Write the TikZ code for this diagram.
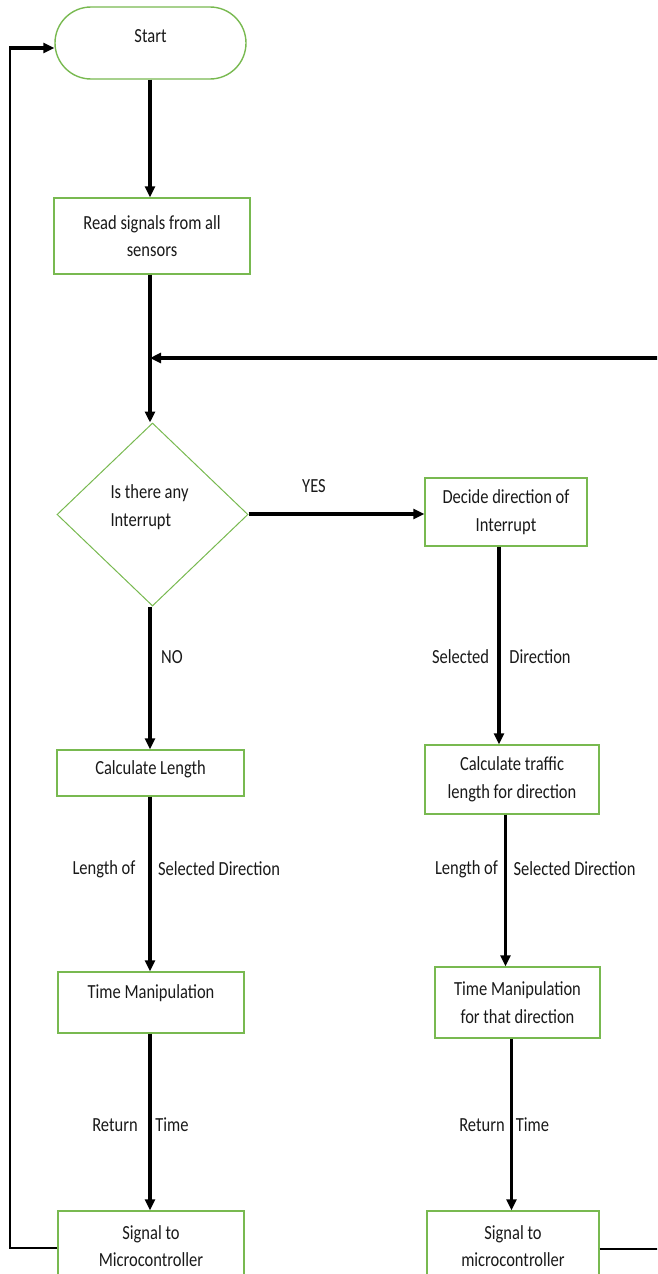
\documentclass[tikz,border=0pt]{standalone}
\usepackage{fontspec}
\setmainfont{Carlito}[FakeStretch=0.825]
\usetikzlibrary{shapes.geometric,arrows.meta}
\definecolor{bgreen}{RGB}{120,185,80}
\definecolor{txt}{RGB}{25,25,25}
\begin{document}
\begin{tikzpicture}[x=1pt,y=-1pt,
  every node/.style={font=\fontsize{20}{27.5}\selectfont, text=txt},
  box/.style={draw=bgreen, line width=1.4pt, align=center, inner sep=0pt},
  arr/.style={line width=3.2pt, -{Triangle[length=11pt,width=10pt]}},
  thinln/.style={line width=1.8pt},
  lbl/.style={inner sep=0pt}]
\useasboundingbox (0,0) rectangle (657,1274);
\clip (0,0) rectangle (657,1274);

% nodes
\node[box, minimum width=191pt, minimum height=72pt, rounded corners=36pt, text depth=14pt] (start) at (150.5,43) {Start};
\node[box, minimum width=196pt, minimum height=76pt] (read) at (152,236) {Read signals from all\\sensors};
\node[draw=bgreen, line width=1pt, shape=diamond, minimum width=191pt, minimum height=183pt, inner sep=0pt] (dec) at (152.5,514.5) {};
\node[lbl, align=left] (dect) at (149.5,507) {Is there any\\Interrupt};
\node[box, minimum width=162pt, minimum height=68pt] (decide) at (506,512) {Decide direction of\\Interrupt};
\node[box, minimum width=187pt, minimum height=46pt, text depth=10.5pt] (calc1) at (150.5,773) {Calculate Length};
\node[box, minimum width=174pt, minimum height=69pt] (calc2) at (512,779.5) {Calculate traffic\\length for direction};
\node[box, minimum width=186pt, minimum height=61pt, text depth=21pt] (time1) at (151,1002.5) {Time Manipulation};
\node[box, minimum width=165pt, minimum height=71pt] (time2) at (517.5,1002.5) {Time Manipulation\\for that direction};
\node[box, minimum width=186pt, minimum height=70pt] (sig1) at (151,1246) {Signal to\\Microcontroller};
\node[box, minimum width=172pt, minimum height=70pt] (sig2) at (513,1246) {Signal to\\microcontroller};

% labels
\node[lbl] (yes) at (314,486) {YES};
\node[lbl] (no) at (172,657) {NO};
\node[lbl] (sel1) at (460.5,657) {Selected};
\node[lbl] (dir1) at (540,657) {Direction};
\node[lbl] (lenL) at (104,869) {Length of};
\node[lbl] (sdL) at (219,869) {Selected Direction};
\node[lbl] (lenR) at (466.5,869) {Length of};
\node[lbl] (sdR) at (574.5,869) {Selected Direction};
\node[lbl] (retL) at (115,1125) {Return};
\node[lbl] (timL) at (172,1125) {Time};
\node[lbl] (retR) at (482,1125) {Return};
\node[lbl] (timR) at (532.5,1125) {Time};

% coordinates
\coordinate (j) at (150,358);
\coordinate (fbR) at (700,358);
\coordinate (fbRb) at (700,1249);
\coordinate (fbL) at (10,1248);
\coordinate (fbLt) at (10,48);

% connectors
\draw[arr] (start.south -| 150,0) -- (read.north -| 150,0);
\draw[arr] (read.south -| 150,0) -- (dec.north -| 150,0);
\draw[arr] (fbR) -- (j);
\draw[thinln] (sig2.east |- fbRb) -- (fbRb) -- (fbR);
\draw[arr] (dec.east |- 0,514) -- (decide.west |- 0,514);
\draw[arr] (dec.south -| 150,0) -- (calc1.north -| 150,0);
\draw[arr] (decide.south -| 499,0) -- (calc2.north -| 499,0);
\draw[arr] (calc1.south -| 150,0) -- (time1.north -| 150,0);
\draw[arr] (calc2.south -| 505.5,0) -- (time2.north -| 505.5,0);
\draw[arr] (time1.south -| 150,0) -- (sig1.north -| 150,0);
\draw[arr] (time2.south -| 511.5,0) -- (sig2.north -| 511.5,0);
\draw[thinln] (sig1.west |- fbL) -- (fbL) -- (fbLt);
\draw[arr] ([xshift=-0.9pt]fbLt) -- (start.west |- fbLt);
\end{tikzpicture}
\end{document}
